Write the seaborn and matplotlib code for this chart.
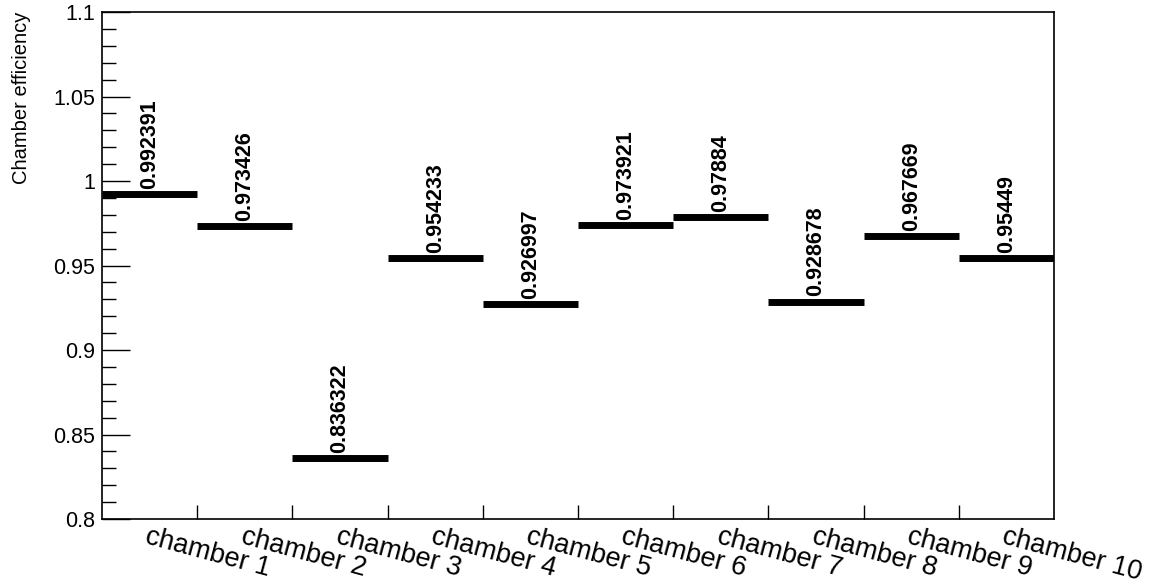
import numpy as np
import pandas as pd
import matplotlib
matplotlib.use('Agg')
import matplotlib.pyplot as plt
import seaborn as sns
from matplotlib.ticker import MultipleLocator, FixedLocator

chambers = ['chamber 1', 'chamber 2', 'chamber 3', 'chamber 4', 'chamber 5',
            'chamber 6', 'chamber 7', 'chamber 8', 'chamber 9', 'chamber 10']
efficiency = [0.992391, 0.973426, 0.836322, 0.954233, 0.926997,
              0.973921, 0.97884, 0.928678, 0.967669, 0.95449]
value_labels = ['0.992391', '0.973426', '0.836322', '0.954233', '0.926997',
                '0.973921', '0.97884', '0.928678', '0.967669', '0.95449']
y_ticks = [0.8, 0.85, 0.9, 0.95, 1.0, 1.05, 1.1]
y_tick_labels = ['0.8', '0.85', '0.9', '0.95', '1', '1.05', '1.1']

# each bin drawn as a flat segment from its low edge to its high edge
rows = []
for i, (name, eff) in enumerate(zip(chambers, efficiency)):
    rows.append({'chamber': name, 'x': i, 'eff': eff})
    rows.append({'chamber': name, 'x': i + 1, 'eff': eff})
df = pd.DataFrame(rows)

sns.set_style('white')
plt.rcParams['font.family'] = ['Liberation Sans', 'DejaVu Sans']
plt.rcParams['text.color'] = 'black'
plt.rcParams['axes.labelcolor'] = 'black'
plt.rcParams['xtick.color'] = 'black'
plt.rcParams['ytick.color'] = 'black'

fig = plt.figure(figsize=(11.53, 5.88), dpi=100)
ax = fig.add_axes([0.0885, 0.1173, 0.8256, 0.8623])

sns.lineplot(data=df, x='x', y='eff', units='chamber', estimator=None,
             color='black', linewidth=5, solid_capstyle='butt', ax=ax)

centers = np.arange(len(chambers)) + 0.5
for c, eff, lab in zip(centers, efficiency, value_labels):
    ax.text(c, eff + 0.003, lab, rotation=90, ha='center', va='bottom',
            fontsize=15.5, fontweight='bold', color='black')

ax.set_xlim(0, len(chambers))
ax.set_ylim(0.8, 1.1)

# x: labels at bin centres, tick marks at bin edges
ax.xaxis.set_major_locator(FixedLocator(centers))
ax.set_xticklabels(chambers, rotation=-15, ha='left', rotation_mode='anchor',
                   fontsize=19.5)
ax.xaxis.set_minor_locator(FixedLocator(np.arange(1, len(chambers))))
ax.tick_params(axis='x', which='major', length=0, pad=3, labelcolor='black')
ax.tick_params(axis='x', which='minor', direction='in', length=10, width=1,
               bottom=True, top=False)

ax.set_yticks(y_ticks)
ax.set_yticklabels(y_tick_labels, fontsize=15.5)
ax.yaxis.set_minor_locator(MultipleLocator(0.01))
ax.tick_params(axis='y', which='major', direction='in', length=20, width=1,
               left=True, right=False, pad=5, labelcolor='black')
ax.tick_params(axis='y', which='minor', direction='in', length=10, width=1,
               left=True, right=False)

ax.set_xlabel('')
ax.set_ylabel('Chamber efficiency', fontsize=14.5, loc='top', labelpad=16,
              color='black')

for sp in ax.spines.values():
    sp.set_visible(True)
    sp.set_color('black')
    sp.set_linewidth(1.2)

plt.savefig('out.png', dpi=100)
